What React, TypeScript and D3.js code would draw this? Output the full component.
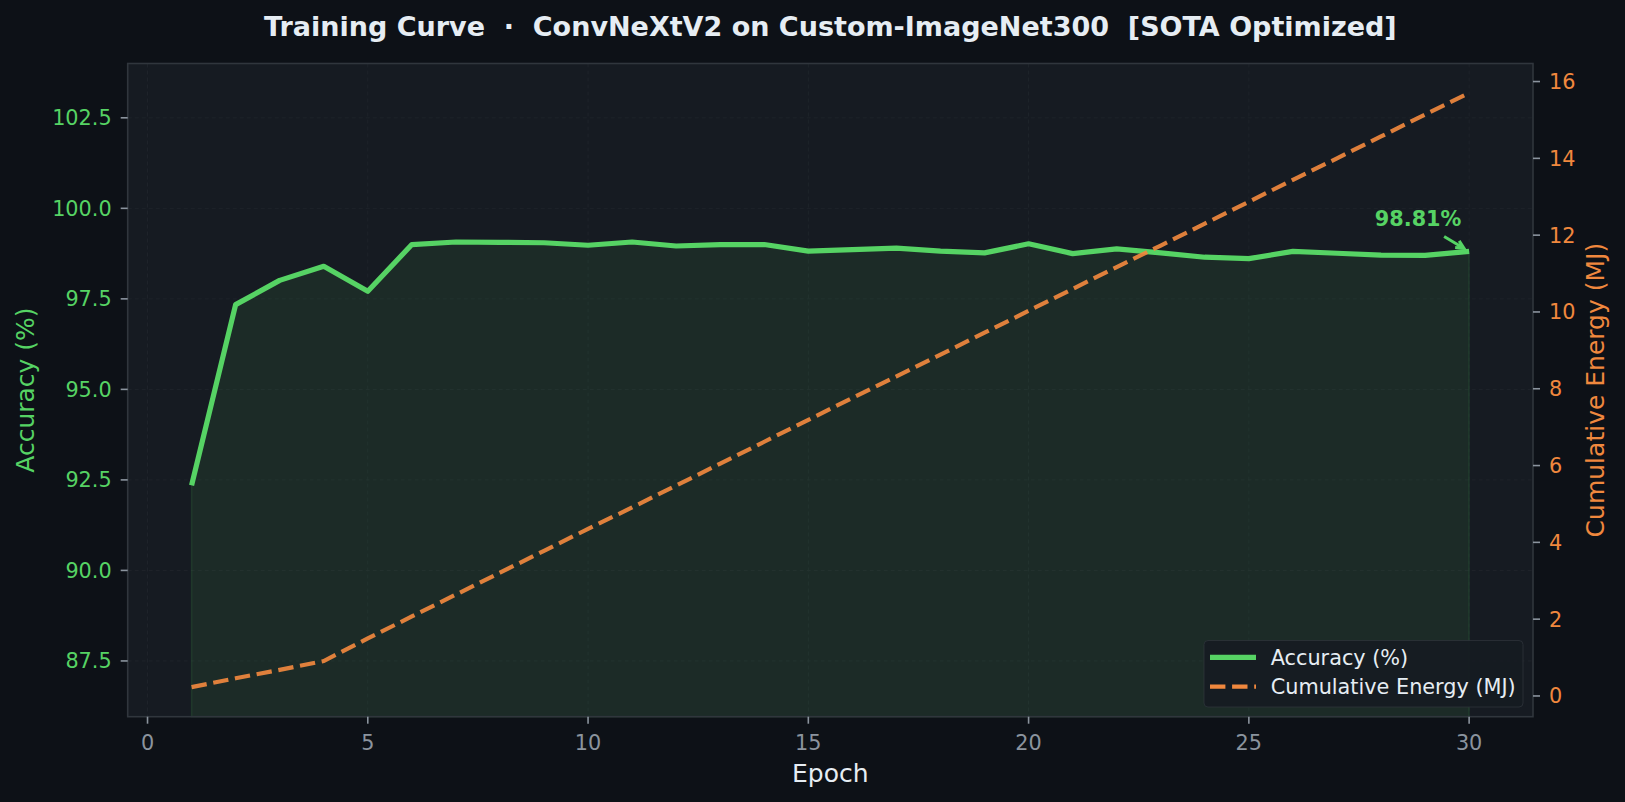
import * as d3 from 'd3'

// epochs and the two series
const epochs = [1, 2, 3, 4, 5, 6, 7, 8, 9, 10, 11, 12, 13, 14, 15, 16, 17, 18, 19, 20, 21, 22, 23, 24, 25, 26, 27, 28, 29, 30]
const accuracy = [
  92.35, 97.34, 98.01, 98.4, 97.71, 99.0, 99.07, 99.06, 99.05, 98.98, 99.07, 98.96, 99.0, 99.0, 98.82,
  98.86, 98.9, 98.82, 98.77, 99.02, 98.75, 98.88, 98.77, 98.65, 98.61, 98.81, 98.76, 98.71, 98.7, 98.81,
]
const energy = [
  0.23, 0.46, 0.68, 0.91, 1.5, 2.07, 2.64, 3.21, 3.78, 4.35, 4.91, 5.48, 6.05, 6.62, 7.19, 7.76, 8.32,
  8.89, 9.46, 10.03, 10.6, 11.17, 11.73, 12.3, 12.87, 13.44, 14.0, 14.57, 15.14, 15.7,
]
const xTicks = [0, 5, 10, 15, 20, 25, 30]
const accTicks = [87.5, 90, 92.5, 95, 97.5, 100, 102.5]
const energyTicks = [0, 2, 4, 6, 8, 10, 12, 14, 16]

const W = 1625
const H = 802
const plot = { left: 127.7, right: 1533, top: 63.5, bottom: 716.7 }

const BG = '#0d1117'
const PANEL = '#161b22'
const SPINE = '#30363d'
const GREEN = '#56d364'
const ORANGE = '#f0883e'
const TEXT = '#e6edf3'
const MUTED = '#8b949e'
const FONT = '"DejaVu Sans", sans-serif'

export default function App() {
  const x = d3.scaleLinear().domain([-0.45, 31.45]).range([plot.left, plot.right])
  const yAcc = d3.scaleLinear().domain([85.96, 104.0]).range([plot.bottom, plot.top])
  const yEn = d3.scaleLinear().domain([-0.54, 16.47]).range([plot.bottom, plot.top])

  const accLine = d3
    .line<number>()
    .x((_, i) => x(epochs[i]))
    .y((d) => yAcc(d))
  const accArea = d3
    .area<number>()
    .x((_, i) => x(epochs[i]))
    .y0(plot.bottom)
    .y1((d) => yAcc(d))
  const enLine = d3
    .line<number>()
    .x((_, i) => x(epochs[i]))
    .y((d) => yEn(d))

  // last point annotation
  const lastX = x(epochs[epochs.length - 1])
  const lastY = yAcc(accuracy[accuracy.length - 1])
  const tipX = lastX - 5
  const tipY = lastY - 3
  const startX = lastX - 25
  const startY = lastY - 15
  const ang = Math.atan2(tipY - startY, tipX - startX)
  const head = 9
  const h1 = [tipX - head * Math.cos(ang - 0.45), tipY - head * Math.sin(ang - 0.45)]
  const h2 = [tipX - head * Math.cos(ang + 0.45), tipY - head * Math.sin(ang + 0.45)]

  return (
    <svg
      width={W}
      height={H}
      style={{ position: 'absolute', left: 0, top: 0, fontFamily: FONT }}
    >
      <rect width={W} height={H} fill={BG} />
      <rect
        x={plot.left}
        y={plot.top}
        width={plot.right - plot.left}
        height={plot.bottom - plot.top}
        fill={PANEL}
      />

      {/* grid */}
      <g stroke="#21262d" strokeWidth={1} strokeDasharray="4 3" opacity={0.8}>
        {xTicks.map((t) => (
          <line key={'gx' + t} x1={x(t)} x2={x(t)} y1={plot.top} y2={plot.bottom} />
        ))}
        {accTicks.map((t) => (
          <line key={'gy' + t} x1={plot.left} x2={plot.right} y1={yAcc(t)} y2={yAcc(t)} />
        ))}
      </g>

      {/* accuracy */}
      <path d={accArea(accuracy) || ''} fill={GREEN} fillOpacity={0.09} stroke={GREEN} strokeOpacity={0.12} strokeWidth={1.5} />
      <path
        d={accLine(accuracy) || ''}
        fill="none"
        stroke={GREEN}
        strokeWidth={5.2}
        strokeLinejoin="round"
      />

      {/* energy */}
      <path
        d={enLine(energy) || ''}
        fill="none"
        stroke={ORANGE}
        strokeWidth={4.17}
        strokeDasharray="15.4 6.7"
        opacity={0.92}
      />

      {/* spines */}
      <rect
        x={plot.left}
        y={plot.top}
        width={plot.right - plot.left}
        height={plot.bottom - plot.top}
        fill="none"
        stroke={SPINE}
        strokeWidth={1.6}
      />

      {/* x axis */}
      {xTicks.map((t) => (
        <g key={'xt' + t}>
          <line x1={x(t)} x2={x(t)} y1={plot.bottom} y2={plot.bottom + 7} stroke={MUTED} strokeWidth={1.6} />
          <text x={x(t)} y={plot.bottom + 33} textAnchor="middle" fontSize={20.8} fill={MUTED}>
            {t}
          </text>
        </g>
      ))}
      <text x={(plot.left + plot.right) / 2} y={782} textAnchor="middle" fontSize={25} fill={TEXT}>
        Epoch
      </text>

      {/* left axis */}
      {accTicks.map((t) => (
        <g key={'ya' + t}>
          <line x1={plot.left - 7} x2={plot.left} y1={yAcc(t)} y2={yAcc(t)} stroke={MUTED} strokeWidth={1.6} />
          <text x={plot.left - 16} y={yAcc(t)} dy="0.36em" textAnchor="end" fontSize={20.8} fill={GREEN}>
            {t.toFixed(1)}
          </text>
        </g>
      ))}
      <text
        transform={`translate(34,${(plot.top + plot.bottom) / 2}) rotate(-90)`}
        textAnchor="middle"
        fontSize={25}
        fill={GREEN}
      >
        Accuracy (%)
      </text>

      {/* right axis */}
      {energyTicks.map((t) => (
        <g key={'ye' + t}>
          <line x1={plot.right} x2={plot.right + 7} y1={yEn(t)} y2={yEn(t)} stroke={MUTED} strokeWidth={1.6} />
          <text x={plot.right + 16} y={yEn(t)} dy="0.36em" textAnchor="start" fontSize={20.8} fill={ORANGE}>
            {t}
          </text>
        </g>
      ))}
      <text
        transform={`translate(1604,${(plot.top + plot.bottom) / 2}) rotate(-90)`}
        textAnchor="middle"
        fontSize={25}
        fill={ORANGE}
      >
        Cumulative Energy (MJ)
      </text>

      {/* annotation */}
      <text x={lastX - 51} y={lastY - 25} textAnchor="middle" fontSize={20.8} fontWeight="bold" fill={GREEN}>
        98.81%
      </text>
      <path
        d={`M${startX},${startY}L${tipX},${tipY}M${h1[0]},${h1[1]}L${tipX},${tipY}L${h2[0]},${h2[1]}`}
        fill="none"
        stroke={GREEN}
        strokeWidth={3}
      />

      {/* legend */}
      <g>
        <rect x={1204} y={640.5} width={319} height={66.5} rx={4} fill={PANEL} fillOpacity={0.92} stroke={SPINE} strokeOpacity={0.7} />
        <line x1={1210} x2={1256} y1={657.3} y2={657.3} stroke={GREEN} strokeWidth={5.2} />
        <text x={1270.7} y={664.5} fontSize={20.8} fill={TEXT}>
          Accuracy (%)
        </text>
        <line x1={1210} x2={1256} y1={686.7} y2={686.7} stroke={ORANGE} strokeWidth={4.17} strokeDasharray="15.4 6.7" />
        <text x={1270.7} y={694} fontSize={20.8} fill={TEXT}>
          Cumulative Energy (MJ)
        </text>
      </g>

      {/* title */}
      <text
        x={(plot.left + plot.right) / 2}
        y={36}
        textAnchor="middle"
        fontSize={27}
        fontWeight="bold"
        fill={TEXT}
        style={{ whiteSpace: 'pre' }}
      >
        {'Training Curve  ·  ConvNeXtV2 on Custom-ImageNet300  [SOTA Optimized]'}
      </text>
    </svg>
  )
}
